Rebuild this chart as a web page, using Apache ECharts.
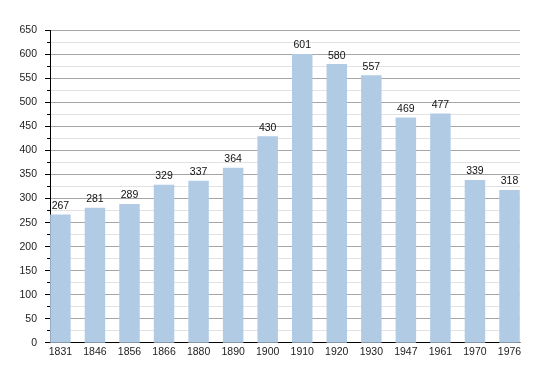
<!DOCTYPE html>
<html>
<head>
<meta charset="utf-8">
<script src="https://cdn.jsdelivr.net/npm/echarts@6/dist/echarts.min.js"></script>
<style>
html,body{margin:0;padding:0;background:#fff;}
#c{width:550px;height:373px;}
</style>
</head>
<body>
<div id="c"></div>
<script>
const years = ['1831','1846','1856','1866','1880','1890','1900','1910','1920','1930','1947','1961','1970','1976'];
const population = [267,281,289,329,337,364,430,601,580,557,469,477,339,318];
const yMin = 0, yMax = 650, yStep = 50;

const font = 'Liberation Sans, Arial, sans-serif';
const chart = echarts.init(document.getElementById('c'), null, {renderer:'canvas'});
chart.setOption({
  animation: false,
  backgroundColor: '#fff',
  grid: [
    {left: 50, right: 30, top: 30.5, bottom: 30.3},
    {left: 60.4, right: 40.5, top: 30.5, bottom: 30.3}
  ],
  xAxis: [
    {gridIndex: 0, type: 'value', min: 0, max: 1, axisLine: {show: true, onZero: false, lineStyle: {color: '#000', width: 1}},
     axisTick: {show: false}, axisLabel: {show: false}, splitLine: {show: false}},
    {gridIndex: 1, type: 'category', data: years, boundaryGap: false,
     axisLine: {show: false}, axisTick: {show: false}, splitLine: {show: false},
     axisLabel: {show: true, margin: 4, fontFamily: font, fontSize: 10.5, color: '#222', interval: 0}}
  ],
  yAxis: [
    {gridIndex: 0, type: 'value', min: yMin, max: yMax, interval: yStep,
     axisLine: {show: true, lineStyle: {color: '#000', width: 1}},
     axisTick: {show: true, length: 5, lineStyle: {color: '#000'}},
     minorTick: {show: true, splitNumber: 2, length: 3, lineStyle: {color: '#000'}},
     axisLabel: {margin: 13, fontFamily: font, fontSize: 10.5, color: '#222'},
     splitLine: {show: true, lineStyle: {color: '#a6a6a6', width: 1}},
     minorSplitLine: {show: true, lineStyle: {color: '#e2e2e2', width: 1}}},
    {gridIndex: 1, type: 'value', min: yMin, max: yMax, interval: yStep, show: false,
     splitLine: {show: false}}
  ],
  series: [{
    type: 'bar', xAxisIndex: 1, yAxisIndex: 1, data: population, barWidth: 20.5,
    itemStyle: {color: '#b2cbe5'},
    label: {show: true, position: 'top', distance: 3, fontFamily: font, fontSize: 10.5, color: '#111'}
  }]
});
</script>
</body>
</html>
